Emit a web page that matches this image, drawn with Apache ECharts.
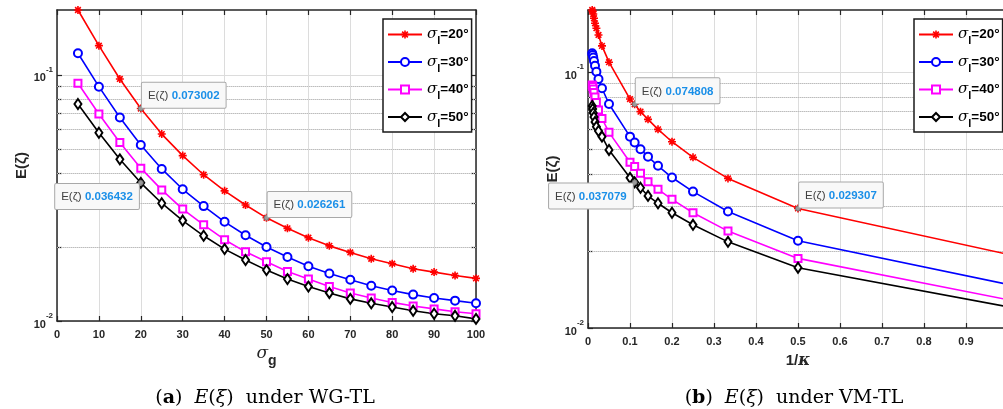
<!DOCTYPE html>
<html><head><meta charset="utf-8">
<script src="https://cdn.jsdelivr.net/npm/echarts@6/dist/echarts.min.js"></script>
<style>html,body{margin:0;padding:0;background:#fff}#c{width:1003px;height:409px}</style>
</head><body><div id="c"></div>
<script>
// ---------- data ----------
const sigmaG = [5,10,15,20,25,30,35,40,45,50,55,60,65,70,75,80,85,90,95,100];
const wg20 = [0.1836,0.1315,0.0963,0.073002,0.0575,0.0470,0.0393,0.0338,0.0296,0.026261,0.0238,0.0218,0.0202,0.0190,0.0179,0.0171,0.0163,0.0158,0.0153,0.0149];
const wg30 = [0.1225,0.0896,0.0671,0.0519,0.0415,0.0343,0.0293,0.0253,0.0223,0.0200,0.0182,0.0167,0.0156,0.0147,0.0139,0.0133,0.0128,0.0124,0.0121,0.0118];
const wg40 = [0.0925,0.0694,0.0531,0.0418,0.0341,0.0285,0.0246,0.0214,0.0191,0.0174,0.0159,0.0148,0.0138,0.0130,0.0124,0.0119,0.0115,0.0112,0.0109,0.0107];
const wg50 = [0.0762,0.0582,0.0454,0.036432,0.0301,0.0256,0.0222,0.0196,0.0177,0.0161,0.0148,0.0138,0.0130,0.0123,0.0118,0.0114,0.0110,0.0107,0.0105,0.0102];

const invKappa = [0.01,0.0111,0.0125,0.0143,0.0167,0.02,0.025,0.0333,0.05,0.1,0.1111,0.125,0.1429,0.1667,0.2,0.25,0.3333,0.5,1];
const vm20 = [0.1746,0.1725,0.1684,0.1621,0.1549,0.1482,0.1395,0.1264,0.1092,0.0784,0.074808,0.0700,0.0653,0.0597,0.0534,0.0464,0.0384,0.029307,0.0194];
const vm30 = [0.1183,0.1165,0.1139,0.1104,0.1058,0.1003,0.0939,0.0864,0.0750,0.0559,0.0530,0.0499,0.0467,0.0430,0.0387,0.0341,0.0285,0.0219,0.0148];
const vm40 = [0.0890,0.0878,0.0858,0.0832,0.0799,0.0760,0.0710,0.0658,0.0581,0.0444,0.0427,0.0402,0.0373,0.0348,0.0318,0.0282,0.0239,0.0187,0.0129];
const vm50 = [0.0737,0.0717,0.0692,0.0667,0.0638,0.0611,0.0588,0.0559,0.0496,0.0386,0.037079,0.0353,0.0328,0.0307,0.0282,0.0253,0.0217,0.0172,0.0121];

const sigmaL = [20,30,40,50];
const seriesNames = sigmaL.map(v => 'σl=' + v + '°');
const minorY = [0.02,0.03,0.04,0.05,0.06,0.07,0.08,0.09];
const majorY = [0.01,0.1];
// datatip x positions (values read from series)
const tipsWG20 = [20,50], tipsWG50 = [20];
const tipsVM20 = [0.1111,0.5], tipsVM50 = [0.1111];
const captions = [['a','WG-TL'],['b','VM-TL']];

// ---------- styling ----------
const AX = '#262626', SANS = 'Liberation Sans', SERIF = 'DejaVu Serif';
const ASTER = 'path://M5,-1L5,1L2.414,1L4.243,2.828L2.828,4.243L1,2.414L1,5L-1,5L-1,2.414L-2.828,4.243L-4.243,2.828L-2.414,1L-5,1L-5,-1L-2.414,-1L-4.243,-2.828L-2.828,-4.243L-1,-2.414L-1,-5L1,-5L1,-2.414L2.828,-4.243L4.243,-2.828L2.414,-1Z';
const styles = [
  {color:'#ff0000', symbol:ASTER, size:8, bw:0},
  {color:'#0000ff', symbol:'emptyCircle', size:8, bw:1.2},
  {color:'#ff00ff', symbol:'emptyRect', size:7, bw:1.2},
  {color:'#000000', symbol:'emptyDiamond', size:[7,10], bw:1.2}
];

function yFmt(v){
  const e = Math.log10(v), r = Math.round(e);
  if (Math.abs(e - r) > 1e-6) return '';
  return '{b|10}{s|' + r + '}';
}
const yRich = {
  b:{fontSize:11, fontWeight:'bold', color:AX, fontFamily:SANS, lineHeight:18, verticalAlign:'bottom'},
  s:{fontSize:8, fontWeight:'bold', color:AX, fontFamily:SANS, lineHeight:8, verticalAlign:'top'}
};

function xAxes(grid, min, max, interval, nameTxt, nameRich, fmt){
  const common = {type:'value', gridIndex:grid, min, max, interval,
    axisLine:{show:true, onZero:false, lineStyle:{color:AX, width:1.5}},
    axisTick:{show:true, inside:true, length:5, lineStyle:{color:AX, width:1.2}}};
  return [
    Object.assign({}, common, {position:'bottom',
      splitLine:{show:true, lineStyle:{color:'#dcdcdc', width:1}},
      axisLabel:{color:AX, fontSize:11, fontWeight:'bold', fontFamily:SANS, margin:8, formatter:fmt},
      name:nameTxt, nameLocation:'middle', nameGap:17,
      nameTextStyle:{rich:nameRich}}),
    Object.assign({}, common, {position:'top', splitLine:{show:false}, axisLabel:{show:false}})
  ];
}
function yAxes(grid, max){
  const common = {type:'log', logBase:10, gridIndex:grid, min:0.01, max, interval:1,
    axisLine:{show:true, onZero:false, lineStyle:{color:AX, width:1.5}},
    axisTick:{show:true, inside:true, length:5, lineStyle:{color:AX, width:1.2}, customValues: majorY.concat(minorY).filter(v=>v<=max)}};
  return [
    Object.assign({}, common, {position:'left',
      splitLine:{show:true, lineStyle:{color:'#dcdcdc', width:1}},
      axisLabel:{formatter:yFmt, rich:yRich, margin:4, showMaxLabel:false},
      name:'E(ζ)', nameLocation:'middle', nameGap:28,
      nameTextStyle:{color:AX, fontSize:15, fontWeight:'bold', fontFamily:SANS}}),
    Object.assign({}, common, {position:'right', splitLine:{show:false}, axisLabel:{show:false}})
  ];
}

const tipRich = {
  g:{color:'#404040', fontSize:11.5, fontFamily:SANS},
  v:{color:'#1a8fe8', fontSize:11.5, fontWeight:'bold', fontFamily:SANS}
};
function tips(xs, ys, tipXs, place){
  return {
    z: 6,
    symbol:'circle', symbolSize:5,
    itemStyle:{color:'#9a9a9a', borderColor:'#6a6a6a', borderWidth:0.8},
    label:{show:true,
      position: place === 'ur' ? [4, 2] : [1, 4],
      align: place === 'ur' ? 'left' : 'right',
      verticalAlign: place === 'ur' ? 'bottom' : 'top',
      backgroundColor:'#f8f8f8', borderColor:'#a8a8a8', borderWidth:1, borderRadius:1,
      padding:[7,6,6,6],
      formatter: p => '{g|E(ζ)} {v|' + p.value.toFixed(6) + '}',
      rich: tipRich},
    data: tipXs.map(tx => {
      const i = xs.indexOf(tx);
      return {coord:[xs[i], ys[i]], value:ys[i]};
    })
  };
}

function lineSeries(idx, grid, xs, ys, tipXs, place){
  const st = styles[idx];
  const s = {
    type:'line', name:seriesNames[idx], xAxisIndex:grid*2, yAxisIndex:grid*2,
    data: xs.map((x,i)=>[x, ys[i]]),
    symbol:st.symbol, symbolSize:st.size, showSymbol:true, showAllSymbol:true,
    lineStyle:{color:st.color, width:1.6},
    itemStyle:{color:st.color, borderColor:st.color, borderWidth:st.bw},
    z:3, animation:false, clip:true
  };
  if (tipXs) s.markPoint = tips(xs, ys, tipXs, place);
  return s;
}
function minorGrid(grid){
  return {type:'line', name:'', xAxisIndex:grid*2, yAxisIndex:grid*2, data:[], z:1,
    markLine:{silent:true, z:1, symbol:['none','none'], label:{show:false}, animation:false,
      lineStyle:{type:'dotted', color:'#bdbdbd', width:1},
      data: minorY.map(v=>({yAxis:v}))}};
}

const legendRich = {
  s:{fontSize:15, fontStyle:'italic', fontFamily:SERIF, color:'#000', lineHeight:24, verticalAlign:'middle'},
  sub:{fontSize:11, fontWeight:'bold', fontFamily:SANS, color:'#000', lineHeight:12, verticalAlign:'bottom'},
  t:{fontSize:13.5, fontWeight:'bold', fontFamily:SANS, color:'#000', lineHeight:24, verticalAlign:'middle'}
};
function legend(left){
  return {show:true, orient:'vertical', left, top:19, data:seriesNames,
    backgroundColor:'#fff', borderColor:'#1a1a1a', borderWidth:1.5, borderRadius:0,
    padding:[8,3,3,4], itemGap:8, itemWidth:34, itemHeight:10,
    formatter: n => '{s|σ}{sub|l}{t|' + n.slice(2) + '}',
    textStyle:{rich:legendRich}};
}

const xs = xAxes(0, 0, 100, 10, '{s|σ}{g|g}', {
    s:{fontSize:17, fontStyle:'italic', fontFamily:SERIF, color:AX, lineHeight:30, verticalAlign:'middle'},
    g:{fontSize:14, fontWeight:'bold', fontFamily:SANS, color:AX, lineHeight:10, verticalAlign:'bottom'}},
    v => String(v))
  .concat(xAxes(1, 0, 1, 0.1, '{b|1/}{k|κ}', {
    b:{fontSize:15, fontWeight:'bold', fontFamily:SANS, color:AX, lineHeight:32},
    k:{fontSize:16, fontStyle:'italic', fontWeight:'bold', fontFamily:SERIF, color:AX, lineHeight:32}},
    v => String(+v.toFixed(1))));
const ys = yAxes(0, Math.max(...wg20)).concat(yAxes(1, Math.max(...vm20)));

const capRich = {
  n:{fontFamily:SERIF, fontSize:19, fill:'#000', color:'#000'},
  b:{fontFamily:SERIF, fontSize:19, fontWeight:'bold', fill:'#000', color:'#000'},
  i:{fontFamily:SERIF, fontSize:19, fontStyle:'italic', fill:'#000', color:'#000'}
};
function caption(x, c){
  return {type:'text', x, y:398, style:{
    text:'{n|(}{b|' + c[0] + '}{n|)  }{i|E}{n|(}{i|ξ}{n|)  under ' + c[1] + '}',
    rich:capRich, align:'center', verticalAlign:'middle'}};
}

const option = {
  backgroundColor:'#fff',
  animation:false,
  grid:[{left:57, top:10, width:419, height:311, outerBoundsMode:'none'},
        {left:588, top:10, width:420, height:318, outerBoundsMode:'none'}],
  xAxis: xs, yAxis: ys,
  legend:[legend(383), legend(914)],
  series:[
    minorGrid(0), minorGrid(1),
    lineSeries(0,0,sigmaG,wg20,tipsWG20,'ur'),
    lineSeries(1,0,sigmaG,wg30),
    lineSeries(2,0,sigmaG,wg40),
    lineSeries(3,0,sigmaG,wg50,tipsWG50,'ll'),
    lineSeries(0,1,invKappa,vm20,tipsVM20,'ur'),
    lineSeries(1,1,invKappa,vm30),
    lineSeries(2,1,invKappa,vm40),
    lineSeries(3,1,invKappa,vm50,tipsVM50,'ll')
  ],
  graphic:[caption(265, captions[0]), caption(794, captions[1])]
};
const chart = echarts.init(document.getElementById('c'), null, {renderer:'canvas'});
chart.setOption(option);
</script></body></html>
